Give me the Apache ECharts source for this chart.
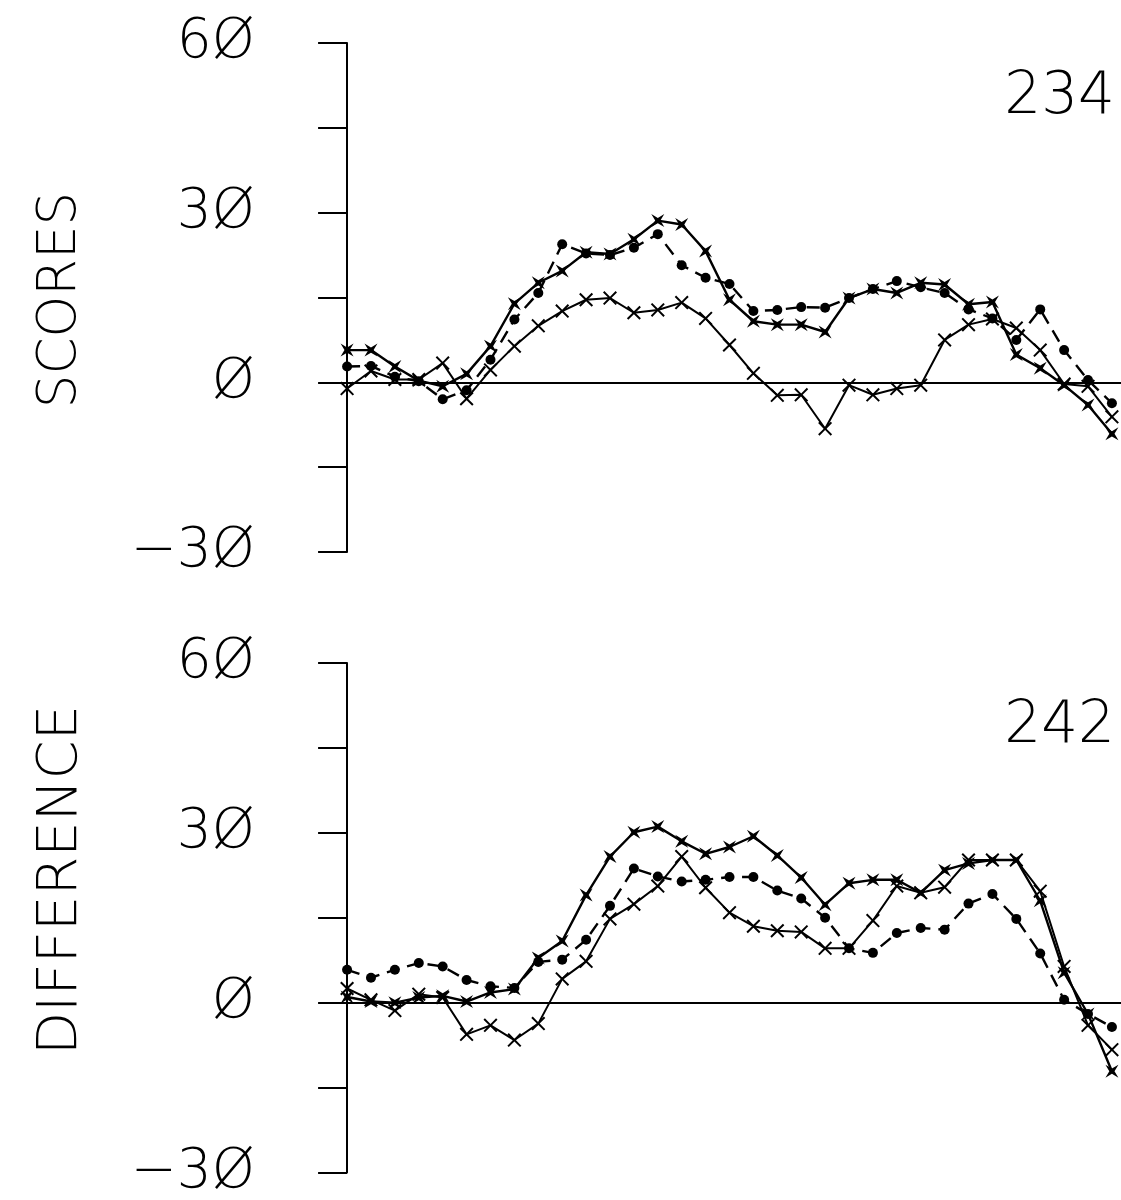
<!DOCTYPE html>
<html>
<head>
<meta charset="utf-8">
<script src="https://cdn.jsdelivr.net/npm/echarts@6/dist/echarts.min.js"></script>
<style>
html,body{margin:0;padding:0;background:#fff;}
#chart{width:1121px;height:1200px;}
</style>
</head>
<body>
<div id="chart"></div>
<script>
// ---- data ----
const xIndex = Array.from({length: 33}, (_, i) => i);
const panelLabels = ['234', '242'];
const axisTitles = ['SCORES', 'DIFFERENCE'];
const yMin = -30, yMax = 60, yStep = 15;

const topStar = [5.7,5.7,2.8,0.3,-0.7,1.5,6.4,13.9,17.6,19.7,23.0,22.7,25.3,28.6,27.9,23.2,14.6,10.8,10.2,10.2,8.9,14.9,16.5,15.8,17.6,17.3,13.8,14.2,4.9,2.5,-0.5,-4.0,-9.1];
const topCircle = [2.8,2.9,1.0,0.2,-3.0,-1.4,4.0,11.1,15.8,24.4,22.8,22.5,23.8,26.2,20.7,18.5,17.4,12.6,12.8,13.3,13.2,14.9,16.5,17.9,16.8,15.8,12.9,11.3,7.5,12.9,5.7,0.4,-3.7];
const topCross = [-1.1,2.0,0.5,0.5,3.4,-2.9,2.2,6.4,10.0,12.6,14.6,14.9,12.3,12.8,14.1,11.3,6.6,1.6,-2.3,-2.2,-8.2,-0.5,-2.2,-1.1,-0.5,7.5,10.2,11.2,9.6,5.7,-0.3,-0.7,-6.1];

const botStar = [1.0,0.2,0.0,0.9,1.2,0.2,1.8,2.4,7.9,10.9,19.0,25.8,30.1,31.1,28.5,26.3,27.5,29.4,26.0,22.1,17.3,21.1,21.7,21.7,19.4,23.4,24.6,25.2,25.2,18.0,5.3,-2.0,-12.1];
const botCircle = [5.8,4.4,5.8,7.0,6.4,4.0,2.9,2.6,7.2,7.6,11.1,17.1,23.7,22.3,21.4,21.7,22.2,22.2,19.8,18.4,15.0,9.6,8.8,12.3,13.2,12.9,17.5,19.2,14.8,8.7,0.5,-2.0,-4.3];
const botCross = [2.5,0.5,-1.4,1.5,0.9,-5.6,-4.0,-6.6,-3.7,4.2,7.3,14.8,17.4,20.6,25.8,20.3,15.9,13.5,12.7,12.5,9.6,9.6,14.5,20.6,19.4,20.4,25.2,25.2,25.2,19.7,6.4,-4.0,-8.3];

// ---- styling ----
const FONT = '"DejaVu Sans", Roboto, sans-serif';
const WEIGHT = 200;
const starPath = 'path://M0,0 L5,3 L10,0 L7,5 L10,10 L5,7 L0,10 L3,5 Z';
const crossPath = 'path://M0,1 L1,0 L5,4 L9,0 L10,1 L6,5 L10,9 L9,10 L5,6 L1,10 L0,9 L4,5 Z';

function pair(arr) { return arr.map((v, i) => [xIndex[i], v]); }
function fmt(v) {
  if (v % 30 !== 0) return '';
  return String(v).replace(/0/g, '\u00D8').replace('-', '\u2212');
}

function yAxisFor(idx) {
  return {
    gridIndex: idx, type: 'value', min: yMin, max: yMax, interval: yStep,
    axisLine: {show: true, lineStyle: {color: '#000', width: 2}},
    axisTick: {show: true, length: 29, lineStyle: {color: '#000', width: 2}},
    axisLabel: {formatter: fmt, margin: 83, fontFamily: FONT, fontSize: 55, fontWeight: WEIGHT, color: '#000'},
    splitLine: {show: false}
  };
}
function xAxisFor(idx) {
  return {
    gridIndex: idx, type: 'value', min: -0.38, max: 32.38,
    axisLine: {show: true, onZero: true, lineStyle: {color: '#000', width: 2}},
    axisTick: {show: false}, axisLabel: {show: false}, splitLine: {show: false}
  };
}
function lineSeries(idx, data, kind) {
  const base = {type: 'line', xAxisIndex: idx, yAxisIndex: idx, data: pair(data),
    showAllSymbol: true, animation: false, itemStyle: {color: '#000'},
    lineStyle: {color: '#000', width: 2.4}};
  if (kind === 'star') { base.symbol = starPath; base.symbolSize = 13; }
  if (kind === 'circle') { base.symbol = 'circle'; base.symbolSize = 10; base.lineStyle.type = [13, 8]; }
  if (kind === 'cross') { base.symbol = crossPath; base.symbolSize = 14; base.lineStyle.width = 2; }
  return base;
}
function titleText(text, cx, cy, size) {
  return {type: 'text', x: cx, y: cy, rotation: Math.PI / 2,
    style: {text: text, font: WEIGHT + ' ' + size + 'px ' + FONT, fill: '#000', align: 'center', verticalAlign: 'middle'}};
}

const chart = echarts.init(document.getElementById('chart'), null, {renderer: 'canvas'});
chart.setOption({
  backgroundColor: '#fff',
  animation: false,
  grid: [
    {left: 338, right: 0, top: 43, height: 509},
    {left: 338, right: 0, top: 663, height: 514}
  ],
  xAxis: [xAxisFor(0), xAxisFor(1)],
  yAxis: [yAxisFor(0), yAxisFor(1)],
  graphic: [
    titleText(axisTitles[0], 61, 300, 53),
    titleText(axisTitles[1], 61, 880, 56),
    {type: 'text', x: 1115, y: 98, style: {text: panelLabels[0], font: WEIGHT + ' 58px ' + FONT, fill: '#000', align: 'right', verticalAlign: 'middle'}},
    {type: 'text', x: 1115, y: 727, style: {text: panelLabels[1], font: WEIGHT + ' 58px ' + FONT, fill: '#000', align: 'right', verticalAlign: 'middle'}}
  ],
  series: [
    lineSeries(0, topCross, 'cross'),
    lineSeries(0, topCircle, 'circle'),
    lineSeries(0, topStar, 'star'),
    lineSeries(1, botCross, 'cross'),
    lineSeries(1, botCircle, 'circle'),
    lineSeries(1, botStar, 'star')
  ]
});
</script>
</body>
</html>
